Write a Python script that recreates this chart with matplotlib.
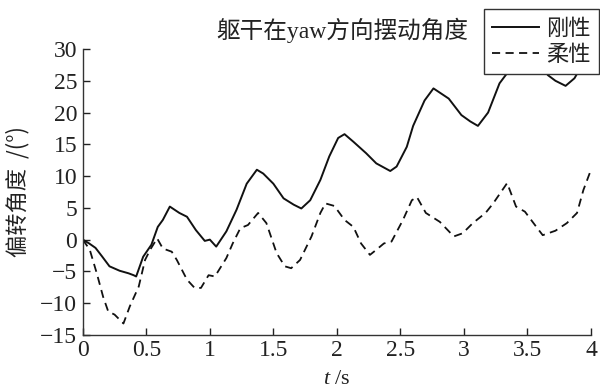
import matplotlib
matplotlib.use("Agg")
import matplotlib.pyplot as plt
import numpy as np

# rigid (solid) series
t_rigid = [0.0, 0.05, 0.10, 0.15, 0.21, 0.29, 0.36, 0.40, 0.42, 0.475, 0.54, 0.59, 0.63, 0.685,
           0.76, 0.82, 0.89, 0.96, 1.00, 1.05, 1.13, 1.21, 1.29, 1.37, 1.42, 1.50, 1.58, 1.66,
           1.72, 1.79, 1.87, 1.94, 2.01, 2.06, 2.13, 2.23, 2.31, 2.42, 2.47, 2.55, 2.60, 2.69,
           2.76, 2.88, 2.98, 3.05, 3.11, 3.19, 3.28, 3.34, 3.40, 3.47, 3.55, 3.62, 3.66, 3.72,
           3.80, 3.87, 3.93, 4.00]
v_rigid = [0.0, -0.6, -1.3, -2.6, -4.2, -4.9, -5.3, -5.6, -5.8, -2.7, -0.8, 2.0, 3.1, 5.2,
           4.2, 3.6, 1.5, -0.2, 0.0, -1.1, 1.3, 4.7, 8.8, 11.0, 10.4, 8.8, 6.5, 5.5,
           4.9, 6.2, 9.4, 13.1, 16.0, 16.6, 15.4, 13.6, 12.0, 10.8, 11.5, 14.6, 17.9, 21.9,
           23.8, 22.2, 19.6, 18.6, 17.9, 20.0, 24.6, 26.2, 28.5, 30.0, 29.5, 27.5, 25.9, 25.0,
           24.2, 25.4, 27.5, 30.5]

# flexible (dashed) series
t_flex = [0.0, 0.055, 0.11, 0.16, 0.20, 0.25, 0.32, 0.37, 0.44, 0.49, 0.53, 0.585, 0.63,
          0.70, 0.74, 0.82, 0.88, 0.93, 0.99, 1.04, 1.13, 1.18, 1.24, 1.30, 1.38, 1.445,
          1.525, 1.59, 1.64, 1.71, 1.80, 1.87, 1.91, 1.98, 2.06, 2.13, 2.19, 2.26, 2.31,
          2.37, 2.43, 2.52, 2.59, 2.63, 2.70, 2.81, 2.92, 2.99, 3.07, 3.17, 3.23, 3.34,
          3.41, 3.48, 3.57, 3.62, 3.72, 3.81, 3.89, 3.94, 4.00]
v_flex = [0.0, -1.6, -5.3, -9.0, -11.3, -11.8, -13.2, -10.5, -7.4, -3.2, -1.6, 0.2, -1.4,
          -1.9, -3.2, -6.3, -7.6, -7.6, -5.6, -5.8, -2.9, -0.6, 1.8, 2.3, 4.2, 2.6,
          -2.1, -4.2, -4.5, -3.2, 0.5, 4.2, 5.7, 5.3, 3.1, 2.0, -0.6, -2.4, -1.6,
          -0.6, -0.3, 3.1, 6.2, 6.7, 4.2, 2.8, 0.5, 1.0, 2.6, 4.2, 5.7, 8.9,
          5.2, 4.4, 2.0, 0.7, 1.4, 2.6, 4.2, 7.8, 11.0]

x_ticks = [0, 0.5, 1, 1.5, 2, 2.5, 3, 3.5, 4]
x_tick_labels = ["0", "0.5", "1", "1.5", "2", "2.5", "3", "3.5", "4"]
y_ticks = [-15, -10, -5, 0, 5, 10, 15, 20, 25, 30]

title = "躯干在yaw方向摆动角度"
labels = ["刚性", "柔性"]

plt.rcParams['font.family'] = ['Liberation Serif', 'Noto Sans CJK SC']
plt.rcParams['axes.unicode_minus'] = True
plt.rcParams['mathtext.fontset'] = 'custom'
plt.rcParams['mathtext.rm'] = 'Liberation Serif'
plt.rcParams['mathtext.it'] = 'Liberation Serif:italic'

fig = plt.figure(figsize=(6.0, 3.89), dpi=100)
ax = fig.add_axes([0.138, 0.139, 0.847, 0.735])

l1, = ax.plot(t_rigid, v_rigid, color='#111111', lw=1.4, linestyle='-')
l2, = ax.plot(t_flex, v_flex, color='#111111', lw=1.3, linestyle=(0, (4.5, 3)))

ax.set_xlim(0, 4)
ax.set_ylim(-15, 30)
ax.set_xticks(x_ticks)
ax.set_xticklabels(x_tick_labels)
ax.set_yticks(y_ticks)
for s in ['top', 'right']:
    ax.spines[s].set_visible(False)
for s in ['left', 'bottom']:
    ax.spines[s].set_color('#333333')
    ax.spines[s].set_linewidth(1.0)
ax.tick_params(direction='in', length=5, width=1, colors='#222222', labelsize=17, pad=4)

ax.set_xlabel(r"$\it{t}$ /s", fontsize=16, labelpad=6, color='#222222')
ax.set_ylabel("偏转角度  /(°)", fontsize=16, labelpad=8,
              family=['Noto Sans CJK SC', 'Liberation Serif'], color='#222222')

fig.text(0.57, 0.923, title, fontsize=17, ha='center', va='center',
         family=['Liberation Serif', 'Noto Sans CJK SC'], color='#222222')

leg = fig.legend([l1, l2], labels, loc='upper right', bbox_to_anchor=(0.998, 0.977),
                 frameon=True, fancybox=False, framealpha=1, edgecolor='#333333',
                 prop={'family': ['Noto Sans CJK SC'], 'size': 16},
                 handlelength=2.1, handletextpad=0.35, labelspacing=0.15,
                 borderpad=0.35, borderaxespad=0)
leg.get_frame().set_linewidth(1.0)
for txt in leg.get_texts():
    txt.set_color('#222222')

fig.savefig("out.png", dpi=100)
